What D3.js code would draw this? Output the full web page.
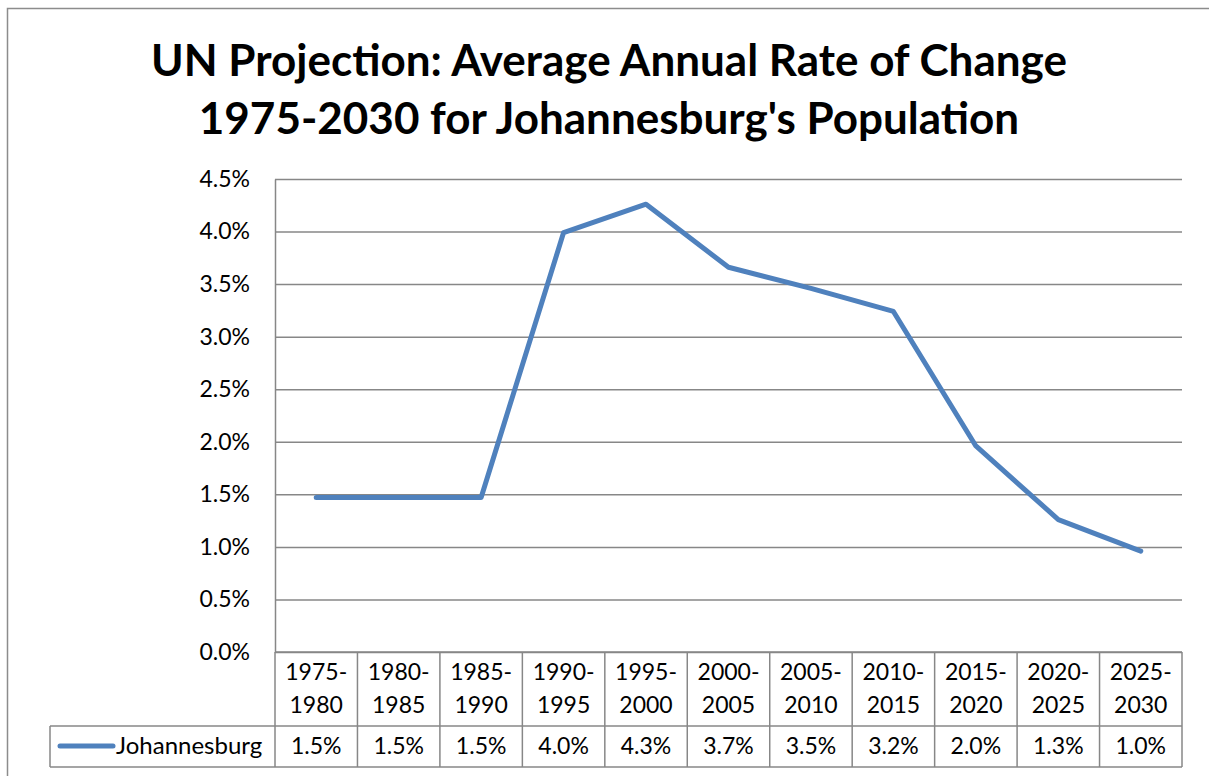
<!DOCTYPE html>
<html>
<head>
<meta charset="utf-8">
<script src="https://cdn.jsdelivr.net/npm/d3@7"></script>
<style>
  html, body { margin: 0; padding: 0; background: #fff; }
  svg { display: block; font-family: Lato, "Open Sans", sans-serif; }
</style>
</head>
<body>
<svg id="chart" width="1209" height="776"></svg>
<script>
const titleLines = ["UN Projection: Average Annual Rate of Change", "1975-2030 for Johannesburg's Population"];
const categories = ["1975-1980","1980-1985","1985-1990","1990-1995","1995-2000","2000-2005","2005-2010","2010-2015","2015-2020","2020-2025","2025-2030"];
const values = [1.47, 1.47, 1.47, 3.99, 4.26, 3.66, 3.46, 3.24, 1.96, 1.26, 0.96];
const yTicks = [0, 0.5, 1.0, 1.5, 2.0, 2.5, 3.0, 3.5, 4.0, 4.5];
const seriesName = "Johannesburg";

const svg = d3.select("#chart");
const W = 1209, H = 776;
const plot = { left: 275, right: 1182, top: 179, bottom: 652 };
const row1Bottom = 726, row2Bottom = 767, legendLeft = 50;
const gridColor = "#878787";
const lineColor = "#4F81BD";

// outer border
svg.append("rect").attr("x", 7.5).attr("y", 8.5).attr("width", W + 10).attr("height", H + 10)
  .attr("fill", "#fff").attr("stroke", "#8c8c8c").attr("stroke-width", 1.5);

// title
const title = svg.append("text").attr("text-anchor", "middle").attr("font-weight", "bold")
  .attr("font-size", 44).attr("fill", "#000");
titleLines.forEach((t, i) => {
  title.append("tspan").attr("x", 609).attr("y", 76 + i * 58).text(t);
});

const x = d3.scaleBand().domain(categories).range([plot.left, plot.right]);
const y = d3.scaleLinear().domain([0, 4.5]).range([plot.bottom, plot.top]);

// gridlines
const grid = svg.append("g").attr("transform", `translate(${plot.left},0)`)
  .call(d3.axisLeft(y).tickValues(yTicks).tickSize(-(plot.right - plot.left)).tickFormat(""));
grid.select(".domain").remove();
grid.selectAll("line").attr("stroke", gridColor).attr("stroke-width", 1.5);

// y axis labels
const yAxis = svg.append("g").attr("transform", `translate(${plot.left},0)`)
  .call(d3.axisLeft(y).tickValues(yTicks).tickSize(0).tickPadding(25).tickFormat(d => d.toFixed(1) + "%"));
yAxis.select(".domain").attr("stroke", gridColor).attr("stroke-width", 1.5);
yAxis.selectAll("text").attr("font-size", 23).attr("fill", "#000").attr("font-family", "Lato, 'Open Sans', sans-serif");

// line
const line = d3.line().x((d, i) => x(categories[i]) + x.bandwidth() / 2).y(d => y(d));
svg.append("path").datum(values).attr("d", line).attr("fill", "none")
  .attr("stroke", lineColor).attr("stroke-width", 5).attr("stroke-linejoin", "round").attr("stroke-linecap", "round");

// data table
const tbl = svg.append("g").attr("stroke", gridColor).attr("stroke-width", 1.5);
tbl.append("line").attr("x1", plot.left).attr("x2", plot.right).attr("y1", plot.bottom).attr("y2", plot.bottom);
tbl.append("line").attr("x1", legendLeft).attr("x2", plot.right).attr("y1", row1Bottom).attr("y2", row1Bottom);
tbl.append("line").attr("x1", legendLeft).attr("x2", plot.right).attr("y1", row2Bottom).attr("y2", row2Bottom);
const bounds = categories.map(c => x(c)).concat([plot.right]);
tbl.selectAll("line.v").data(bounds).enter().append("line")
  .attr("x1", d => d).attr("x2", d => d).attr("y1", plot.bottom).attr("y2", row2Bottom);
tbl.append("line").attr("x1", legendLeft).attr("x2", legendLeft).attr("y1", row1Bottom).attr("y2", row2Bottom);

// header text
const hdr = svg.append("g").attr("font-size", 23).attr("fill", "#000").attr("text-anchor", "middle");
categories.forEach(c => {
  const parts = c.split("-");
  const cx = x(c) + x.bandwidth() / 2;
  hdr.append("text").attr("x", cx).attr("y", 680).text(parts[0] + "-");
  hdr.append("text").attr("x", cx).attr("y", 713).text(parts[1]);
});
categories.forEach((c, i) => {
  hdr.append("text").attr("x", x(c) + x.bandwidth() / 2).attr("y", 754).text(values[i].toFixed(1) + "%");
});
// legend
svg.append("line").attr("x1", 60).attr("x2", 113).attr("y1", 746).attr("y2", 746)
  .attr("stroke", lineColor).attr("stroke-width", 5).attr("stroke-linecap", "round");
svg.append("text").attr("x", 116).attr("y", 754).attr("font-size", 24).attr("fill", "#000").text(seriesName);
</script>
</body>
</html>
